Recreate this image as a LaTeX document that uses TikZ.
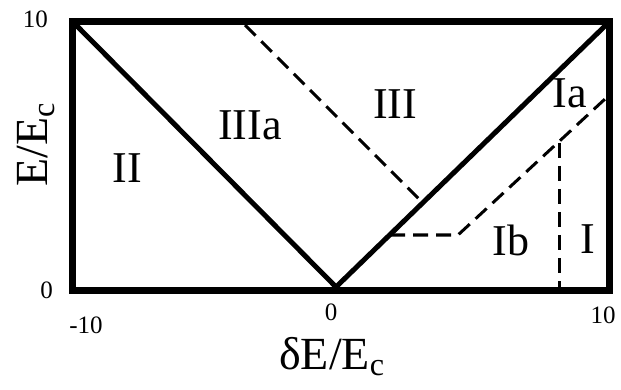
\documentclass[tikz,border=0pt]{standalone}
\usepackage{fontspec}
\setmainfont{Liberation Serif}
\begin{document}
\begin{tikzpicture}[x=1pt,y=-1pt,
  frame/.style={line width=7pt},
  vline/.style={line width=5pt},
  dline/.style={line width=3pt, dash pattern=on 15pt off 8pt},
  region/.style={font=\fontsize{44}{50}\selectfont, anchor=base, inner sep=0pt},
  ticklab/.style={font=\fontsize{25}{30}\selectfont, inner sep=0pt},
  axlabel/.style={font=\fontsize{46}{52}\selectfont, inner sep=0pt}]
\useasboundingbox (0,0) rectangle (621,390);
% frame
\coordinate (fa) at (72.5,22);
\coordinate (fb) at (609,290);
\draw[frame] (fa) rectangle (fb);
% V boundary
\coordinate (tl) at (76,25);
\coordinate (v0) at (336,287);
\coordinate (tr) at (606,25);
\draw[vline, line join=miter] (tl) -- (v0) -- (tr);
% dashed boundaries
\coordinate (d1a) at (245,25);
\coordinate (d1b) at (423,203);
\draw[dline] (d1a) -- (d1b);
\coordinate (d2a) at (390,235);
\coordinate (d2b) at (458,235);
\coordinate (d2c) at (605,99);
\draw[dline] (d2a) -- (d2b) -- (d2c);
\coordinate (d3a) at (559,143);
\coordinate (d3b) at (559,287);
\draw[dline] (d3a) -- (d3b);
% region labels
\node[region] (rII) at (127,183) {II};
\node[region] (rIIIa) at (250,140) {IIIa};
\node[region] (rIII) at (395,119) {III};
\node[region] (rIa) at (570,108) {Ia};
\node[region] (rIb) at (511,255) {Ib};
\node[region] (rI) at (588,253) {I};
% tick labels
\node[ticklab, anchor=east] (y10) at (48,19) {10};
\node[ticklab, anchor=east] (y0) at (53,290) {0};
\node[ticklab] (xm10) at (86,325) {-10};
\node[ticklab] (x0) at (331,312) {0};
\node[ticklab] (x10) at (603,315) {10};
% axis labels
\node[axlabel, rotate=90] (ylab) at (36,145) {E/E\textsubscript{c}};
\node[axlabel, anchor=base] (xlab) at (332,369) {δE/E\textsubscript{c}};
\end{tikzpicture}
\end{document}
